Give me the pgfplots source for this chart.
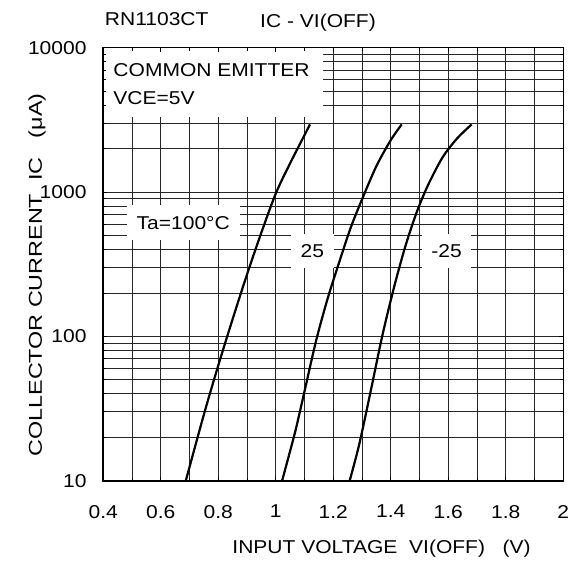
\documentclass[border=0pt]{standalone}
\usepackage{fontspec}
\setmainfont{Liberation Sans}[FakeStretch=1.13]
\usepackage{graphicx}
\usepackage{pgfplots}
\pgfplotsset{compat=1.18}
\newcommand\fs{\fontsize{18.6bp}{22bp}\selectfont}
\pgfplotsset{
  layers/mylayers/.define layer set={axis background,axis grid,main,axis ticks,axis lines,axis tick labels,axis descriptions,axis foreground}{
    grid style={/pgfplots/on layer=axis grid},
    tick style={/pgfplots/on layer=axis ticks},
    axis line style={/pgfplots/on layer=axis lines},
    label style={/pgfplots/on layer=axis descriptions},
    title style={/pgfplots/on layer=axis descriptions},
    ticklabel style={/pgfplots/on layer=axis tick labels},
  },
}
\begin{document}
\begin{tikzpicture}
\begin{axis}[
  set layers=mylayers,
  at={(0,0)}, anchor=south west,
  scale only axis, width=460bp, height=433bp,
  ymode=log, xmin=0.4, xmax=2, ymin=10, ymax=10000,
  xtick={0.4,0.6,0.8,1.0,1.2,1.4,1.6,1.8,2.0},
  xticklabels={0.4,0.6,0.8,1,1.2,1.4,1.6,1.8,2},
  minor xtick={0.5,0.7,0.9,1.1,1.3,1.5,1.7,1.9},
  ytick={10,100,1000,10000},
  yticklabels={{\fs 10},{\fs 100},{\fs 1000},{\fs 10000}},
  grid=both,
  major grid style={black!85, line width=0.8bp},
  minor grid style={black!85, line width=0.8bp},
  axis line style={line width=1.6bp},
  tick align=inside,
  major tick length=4bp, minor tick length=3bp,
  tick style={black, line width=0.8bp},
  /pgf/number format/assume math mode=true,
  xticklabel style={font=\fs, anchor=north, inner sep=0pt, yshift=-24.3bp},
  yticklabel style={font=\fs, anchor=east, inner sep=0pt, xshift=-16.6bp},
]
% Ta = 100 C
\addplot[black, line width=2.2bp, smooth] coordinates {
  (0.687,10) (0.75,28.8) (0.80,63) (0.85,132) (0.90,269) (0.95,525) (1.00,977) (1.05,1585) (1.119,2940)
};
% Ta = 25 C
\addplot[black, line width=2.2bp, smooth] coordinates {
  (1.022,10) (1.045,14.8) (1.07,22.9) (1.10,41.7) (1.14,93) (1.18,182) (1.22,324) (1.26,562) (1.30,891) (1.35,1514) (1.40,2291) (1.438,2940)
};
% Ta = -25 C
\addplot[black, line width=2.2bp, smooth] coordinates {
  (1.257,10) (1.29,17.8) (1.33,41.7) (1.37,100) (1.41,214) (1.45,417) (1.49,724) (1.53,1122) (1.58,1738) (1.63,2344) (1.681,2940)
};
\fill[white] (rel axis cs:0,0.84) rectangle (rel axis cs:0.4776,1);
\node[anchor=base west, font=\fs, inner sep=0pt] at (rel axis cs:0.0217,0.933) {COMMON EMITTER};
\node[anchor=base west, font=\fs, inner sep=0pt] at (rel axis cs:0.0217,0.8677) {VCE=5V};
\node[fill=white, font=\fs, inner xsep=10bp, inner ysep=10.8bp, text height=13.3bp, text depth=0pt] at (axis cs:0.678,612) {Ta=100°C};
\node[fill=white, font=\fs, inner xsep=9.5bp, inner ysep=10bp, text height=13.3bp, text depth=0pt] at (axis cs:1.127,390) {25};
\node[fill=white, font=\fs, inner xsep=9.5bp, inner ysep=10bp, text height=13.3bp, text depth=0pt] at (axis cs:1.594,390) {-25};
\end{axis}
\node[font=\fs] at (53.4bp,461.5bp) {RN1103CT};
\node[font=\fs] at (214.7bp,458bp) {IC - VI(OFF)};
\node[font=\fs, rotate=90] at (-66.3bp,205.7bp) {\scalebox{1.11}[1]{COLLECTOR CURRENT\ \ IC\ \ \ (μA)}};
\node[font=\fs] at (278.2bp,-68.3bp) {INPUT VOLTAGE\ \ VI(OFF)\ \ \ (V)};
\pgfresetboundingbox
\path[use as bounding box] (-103.3bp,-81.3bp) rectangle (467.7bp,480.7bp);
\end{tikzpicture}
\end{document}
